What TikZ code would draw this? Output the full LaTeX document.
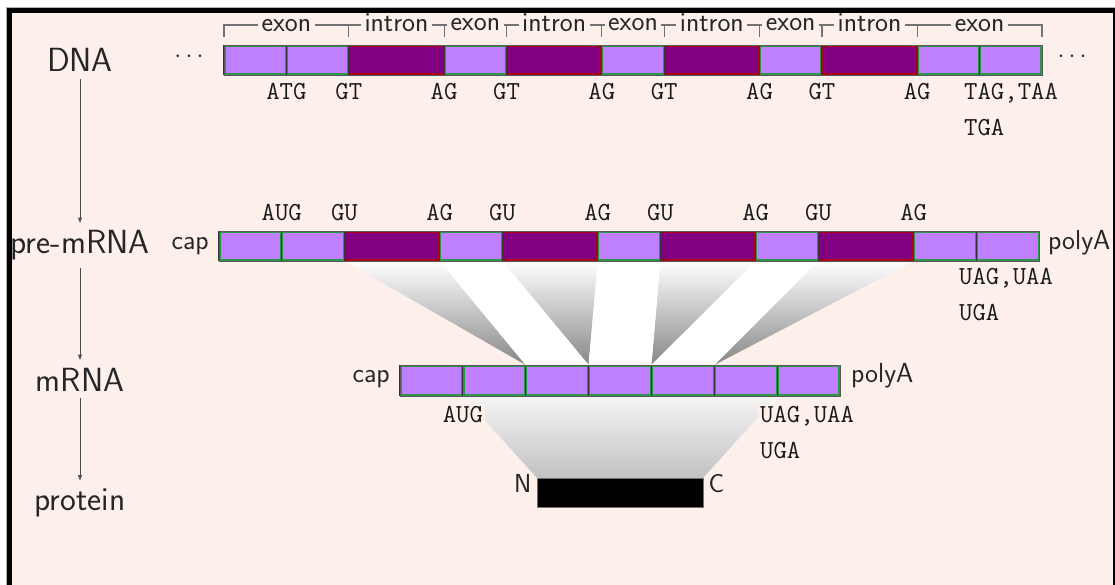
\documentclass[tikz,border=0pt]{standalone}
\usetikzlibrary{arrows.meta}
\definecolor{bgc}{RGB}{253,240,235}
\definecolor{exonc}{RGB}{191,128,255}
\definecolor{intronc}{RGB}{128,0,128}
\definecolor{exonl}{RGB}{45,150,75}
\definecolor{intronl}{RGB}{175,0,25}
\newcommand\cellrow[3]{%
  \foreach \a/\b/\f/\l in {#3}{%
    \fill[\f] (\a,#1) rectangle (\b,#2);
    \draw[\l, line width=1.4pt] (\a+0.9,#1+0.9) rectangle (\b-0.9,#2-0.9);
    \draw[black!80, line width=1.1pt] (\a,#1) -- (\a,#2);
  }}
\begin{document}
\begin{tikzpicture}[x=1pt,y=-1pt,
  lab/.style={font=\fontsize{33.5}{40}\selectfont\sffamily, anchor=base, inner sep=7pt, text=black!85},
  sml/.style={font=\fontsize{27.5}{33}\selectfont\sffamily, text=black!85, inner sep=1pt},
  term/.style={font=\fontsize{26}{31}\selectfont\sffamily, text=black!85, inner sep=1pt},
  brk/.style={draw=black!55, line width=1.2pt},
  brl/.style={font=\fontsize{27.5}{33}\selectfont\sffamily, text=black!85, fill=bgc, anchor=base, inner xsep=3.5pt, inner ysep=1pt},
  cod/.style={font=\fontsize{26}{31}\selectfont\ttfamily, text=black!90, fill=bgc, anchor=base, inner sep=2pt},
  arr/.style={draw=black!70, line width=0.9pt, -{Latex[length=6pt,width=4.5pt]}},
  outl/.style={draw=black!65, line width=0.9pt}]
\useasboundingbox (0,0) rectangle (1115,585);
\fill[white] (0,0) rectangle (1115,585);
\fill[bgc] (7,8) rectangle (1118,590);

% ---------- left column ----------
\node[lab] (dna) at (80,72) {DNA};
\node[lab] (pre) at (80,254) {pre-mRNA};
\node[lab] (mrna) at (80,391) {mRNA};
\node[lab] (prot) at (80,510) {protein};
\draw[arr] (dna) -- (pre);
\draw[arr] (pre) -- (mrna);
\draw[arr] (mrna) -- (prot);

% ---------- splicing shades ----------
\shade[top color=white, bottom color=black!47] (344.4,261) -- (439.7,261) -- (525.7,365) -- cycle;
\shade[top color=white, bottom color=black!47] (502.4,261) -- (597.7,261) -- (588.6,365) -- cycle;
\shade[top color=white, bottom color=black!47] (660.4,261) -- (755.7,261) -- (651.4,365) -- cycle;
\shade[top color=white, bottom color=black!47] (818.4,261) -- (913.7,261) -- (714.3,365) -- cycle;
\fill[white] (439.7,261) -- (502.4,261) -- (588.6,365) -- (525.7,365) -- cycle;
\fill[white] (597.7,261) -- (660.4,261) -- (651.4,365) -- (588.6,365) -- cycle;
\fill[white] (755.7,261) -- (818.4,261) -- (714.3,365) -- (651.4,365) -- cycle;
% translation shade
\shade[top color=white!96!black, bottom color=black!24] (462.9,396) -- (777.1,396) -- (703,478) -- (537,478) -- cycle;

% ---------- DNA ----------
\cellrow{45}{75}{224/286.4/exonc/exonl, 286.4/348.8/exonc/exonl, 348.8/444.1/intronc/intronl, 444.1/506.5/exonc/exonl, 506.5/601.8/intronc/intronl, 601.8/664.2/exonc/exonl, 664.2/759.5/intronc/intronl, 759.5/821.9/exonc/exonl, 821.9/917.2/intronc/intronl, 917.2/979.6/exonc/exonl, 979.6/1042/exonc/exonl}
\draw[outl] (224,45) rectangle (1042,75);
\node[term] (dl) at (189,57) {$\cdots$};
\node[term] (dr) at (1072,57) {$\cdots$};

% brackets
\draw[brk] (224,37) -- (224,25) -- (1042,25) -- (1042,37);
\node[brl] (b1) at (286.4,32) {exon};
\node[brl] (b2) at (396.45,32) {intron};
\node[brl] (b3) at (475.3,31) {exon};
\node[brl] (b4) at (554.15,32) {intron};
\node[brl] (b5) at (633,31) {exon};
\node[brl] (b6) at (711.85,32) {intron};
\node[brl] (b7) at (790.7,31) {exon};
\node[brl] (b8) at (869.55,32) {intron};
\node[brl] (b9) at (979.6,32) {exon};
\foreach \x in {348.8,444.1,506.5,601.8,664.2,759.5,821.9,917.2}
  \draw[brk] (\x,25) -- (\x,37);

% DNA codons
\foreach \x/\t [count=\i] in {286.4/ATG,348.8/GT,444.1/AG,506.5/GT,601.8/AG,664.2/GT,759.5/AG,821.9/GT,917.2/AG}
  \node[cod] (dc\i) at (\x,100) {\t};
\node[cod, anchor=base west] (dstop) at (962,100) {TAG,TAA};
\node[cod, anchor=base west] (dstop2) at (962,136) {TGA};

% ---------- pre-mRNA ----------
\cellrow{231}{261}{219/281.7/exonc/exonl, 281.7/344.4/exonc/exonl, 344.4/439.7/intronc/intronl, 439.7/502.4/exonc/exonl, 502.4/597.7/intronc/intronl, 597.7/660.4/exonc/exonl, 660.4/755.7/intronc/intronl, 755.7/818.4/exonc/exonl, 818.4/913.7/intronc/intronl, 913.7/976.4/exonc/exonl, 976.4/1039.1/exonc/exonl}
\draw[outl] (219,231) rectangle (1039.1,261);
\node[sml, anchor=base east] (pcap) at (210,250) {cap};
\node[sml, anchor=base west] (ppoly) at (1047,250) {polyA};
\foreach \x/\t [count=\i] in {281.7/AUG,344.4/GU,439.7/AG,502.4/GU,597.7/AG,660.4/GU,755.7/AG,818.4/GU,913.7/AG}
  \node[cod] (pc\i) at (\x,221) {\t};
\node[cod, anchor=base west] (pstop) at (957,284) {UAG,UAA};
\node[cod, anchor=base west] (pstop2) at (957,320) {UGA};

% ---------- mRNA ----------
\cellrow{365}{396}{400/462.9/exonc/exonl, 462.9/525.7/exonc/exonl, 525.7/588.6/exonc/exonl, 588.6/651.4/exonc/exonl, 651.4/714.3/exonc/exonl, 714.3/777.1/exonc/exonl, 777.1/840/exonc/exonl}
\draw[outl] (400,365) rectangle (840,396);
\node[sml, anchor=base east] (mcap) at (391,382) {cap};
\node[sml, anchor=base west] (mpoly) at (850,382) {polyA};
\node[cod] (mstart) at (462.9,422) {AUG};
\node[cod, anchor=base west] (mstop) at (758,422) {UAG,UAA};
\node[cod, anchor=base west] (mstop2) at (758,458) {UGA};

% ---------- protein ----------
\node[draw=black!55, fill=black, line width=0.8pt, minimum width=166pt, minimum height=29pt, inner sep=0pt] (pbar) at (620,492.5) {};
\node[term, anchor=base east] (nterm) at (pbar.north west) [yshift=-15pt, xshift=-4pt] {N};
\node[term, anchor=base west] (cterm) at (pbar.north east) [yshift=-15pt, xshift=4pt] {C};

% ---------- frame ----------
\draw[black!30, line width=0.8pt] (6.5,600) -- (6.5,7) -- (1118,7);
\draw[black, line width=5pt] (9.6,600) -- (9.6,10.5) -- (1115.8,10.5) -- (1115.8,600);
\end{tikzpicture}
\end{document}
